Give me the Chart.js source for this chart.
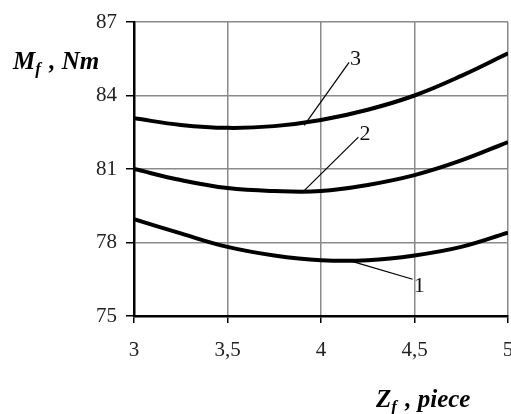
<!DOCTYPE html>
<html>
<head>
<meta charset="utf-8">
<script src="https://cdn.jsdelivr.net/npm/chart.js@4.4.0/dist/chart.umd.min.js"></script>
<style>
html, body { margin: 0; padding: 0; background: #fff; }
</style>
</head>
<body>
<canvas id="chart" width="511" height="414"></canvas>
<script>
// values
const xValues = [3, 3.25, 3.5, 3.75, 4, 4.25, 4.5, 4.75, 5];
const curve1 = [78.95, 78.37, 77.82, 77.47, 77.28, 77.28, 77.47, 77.82, 78.4];
const curve2 = [81.0, 80.55, 80.22, 80.1, 80.1, 80.35, 80.75, 81.35, 82.1];
const curve3 = [83.07, 82.8, 82.68, 82.75, 83.0, 83.42, 84.0, 84.8, 85.72];
const yTicks = [75, 78, 81, 84, 87];
const xTicks = ['3', '3,5', '4', '4,5', '5'];

// leader lines for curve numbers, in data units: [label, fromX, fromY, toX, toY]
const leaders = [
    ['1', 4.17, 77.22, 4.49, 76.5],
    ['2', 3.91, 80.12, 4.2, 82.3],
    ['3', 3.91, 82.78, 4.15, 85.35]
];

const serif = "'Liberation Serif', 'Times New Roman', serif";

function toPoints(ys) {
    return xValues.map((x, i) => ({ x: x, y: ys[i] }));
}

function lineSet(label, ys) {
    return {
        label: label,
        data: toPoints(ys),
        borderColor: '#000',
        borderWidth: 4,
        pointRadius: 0,
        tension: 0.4,
        fill: false
    };
}

const labelsPlugin = {
    id: 'labels',
    afterDraw(chart) {
        const ctx = chart.ctx;
        const xs = chart.scales.x;
        const ys = chart.scales.y;
        ctx.save();

        // leaders and curve numbers
        ctx.strokeStyle = '#000';
        ctx.lineWidth = 1.2;
        ctx.fillStyle = '#111';
        ctx.font = '22px ' + serif;
        ctx.textBaseline = 'alphabetic';
        leaders.forEach(([txt, x1, y1, x2, y2]) => {
            const px1 = xs.getPixelForValue(x1), py1 = ys.getPixelForValue(y1);
            const px2 = xs.getPixelForValue(x2), py2 = ys.getPixelForValue(y2);
            ctx.beginPath();
            ctx.moveTo(px1, py1);
            ctx.lineTo(px2, py2);
            ctx.stroke();
            if (txt === '1') {
                ctx.fillText(txt, px2 + 1, py2 + 13);
            } else {
                ctx.fillText(txt, px2 + 1, py2 + 3);
            }
        });

        // axis titles with subscript f
        function title(main, rest, x, y) {
            ctx.font = 'bold italic 25px ' + serif;
            ctx.fillText(main, x, y);
            let cx = x + ctx.measureText(main).width;
            ctx.font = 'bold italic 17px ' + serif;
            ctx.fillText('f', cx, y + 5);
            cx += ctx.measureText('f').width + 2;
            ctx.font = 'bold italic 25px ' + serif;
            ctx.fillText(rest, cx, y);
        }
        ctx.fillStyle = '#000';
        title('M', ' , Nm', 13, 69);
        title('Z', ' , piece', 376, 407);

        ctx.restore();
    }
};

new Chart(document.getElementById('chart').getContext('2d'), {
    type: 'line',
    data: {
        datasets: [
            lineSet('1', curve1),
            lineSet('2', curve2),
            lineSet('3', curve3)
        ]
    },
    options: {
        responsive: false,
        animation: false,
        layout: { padding: { top: 22, right: 3, left: 0, bottom: 0 } },
        plugins: {
            legend: { display: false },
            tooltip: { enabled: false }
        },
        scales: {
            x: {
                type: 'linear',
                min: 3,
                max: 5,
                afterBuildTicks(scale) {
                    scale.ticks = xTicks.map(t => ({ value: parseFloat(t.replace(',', '.')) }));
                },
                afterFit(scale) {
                    scale.height = 98;
                    scale.paddingLeft = 0;
                    scale.paddingRight = 0;
                },
                ticks: {
                    callback: (v, i) => xTicks[i],
                    font: { family: serif, size: 21 },
                    color: '#222',
                    padding: 15,
                    maxRotation: 0
                },
                grid: {
                    color: '#8a8a8a',
                    lineWidth: 1.5,
                    tickColor: '#000',
                    tickLength: 7
                },
                border: { color: '#000', width: 2.5 }
            },
            y: {
                min: 75,
                max: 87,
                afterBuildTicks(scale) {
                    scale.ticks = yTicks.map(v => ({ value: v }));
                },
                afterFit(scale) {
                    scale.width = 134;
                },
                ticks: {
                    font: { family: serif, size: 21 },
                    color: '#222',
                    padding: 9
                },
                grid: {
                    color: '#8a8a8a',
                    lineWidth: 1.5,
                    tickColor: '#000',
                    tickLength: 8
                },
                border: { color: '#000', width: 2.5 }
            }
        }
    },
    plugins: [labelsPlugin]
});
</script>
</body>
</html>
